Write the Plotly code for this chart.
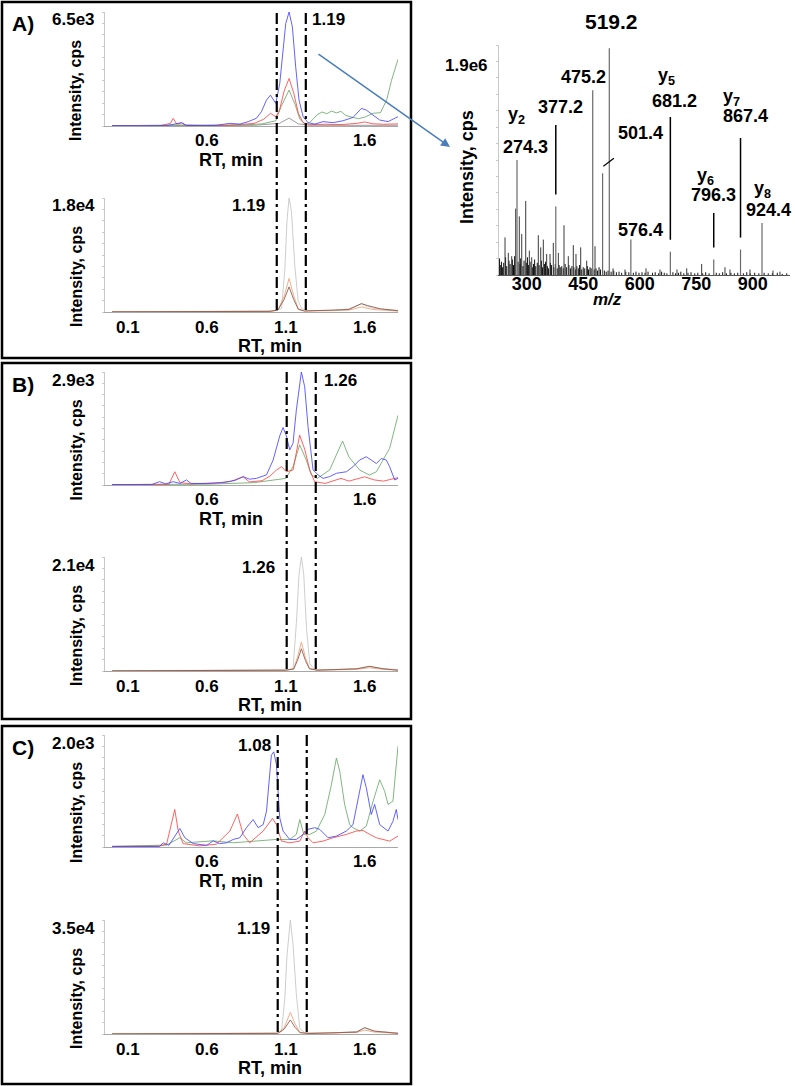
import plotly.graph_objects as go

# ---------------- chromatograms: (RT min, intensity cps) vertices ----------------
# panel A
a_top_blue = [(0.0, 20), (0.134, 20), (0.28, 40), (0.345, 20), (0.44, 190), (0.47, 40), (0.556, 20),
              (0.66, 40), (0.745, 150), (0.81, 110), (0.862, 250), (0.914, 440), (0.946, 815),
              (0.978, 1480), (1.003, 1760), (1.037, 1290), (1.062, 2430), (1.083, 4320), (1.1, 5840),
              (1.121, 6500), (1.142, 5650), (1.163, 3370), (1.184, 1480), (1.21, 530), (1.241, 190),
              (1.284, 110), (1.336, 250), (1.4, 190), (1.463, 300), (1.526, 490), (1.579, 1000),
              (1.61, 910), (1.653, 625), (1.695, 340), (1.748, 250), (1.78, 380), (1.811, 530)]
a_top_red = [(0.0, 10), (0.3, 10), (0.37, 150), (0.387, 435), (0.41, 100), (0.44, 180), (0.47, 30),
             (0.7, 30), (0.8, 80), (0.9, 150), (0.96, 380), (1.003, 720), (1.037, 530), (1.06, 900),
             (1.09, 2000), (1.121, 2710), (1.15, 1900), (1.18, 720), (1.21, 190), (1.25, 80), (1.35, 100),
             (1.45, 80), (1.55, 150), (1.6, 230), (1.65, 130), (1.72, 100), (1.811, 120)]
a_top_green = [(0.0, 10), (0.44, 60), (0.8, 40), (0.95, 120), (1.037, 300), (1.07, 1100), (1.121, 2050),
               (1.16, 1200), (1.19, 380), (1.22, 120), (1.25, 180), (1.3, 650), (1.33, 800), (1.36, 700),
               (1.39, 850), (1.42, 750), (1.45, 830), (1.48, 600), (1.52, 500), (1.56, 420), (1.6, 500),
               (1.65, 720), (1.7, 760), (1.74, 1500), (1.77, 2600), (1.811, 3800)]
a_top_black = [(0.0, 15), (0.9, 40), (1.06, 150), (1.121, 450), (1.18, 120), (1.25, 40), (1.811, 40)]

a_bot_gray = [(0.0, 50), (0.8, 80), (1.0, 150), (1.04, 300), (1.073, 530), (1.094, 6600), (1.108, 14500),
              (1.121, 18000), (1.136, 15900), (1.157, 7400), (1.178, 1850), (1.2, 530), (1.24, 250),
              (1.4, 200), (1.5, 500), (1.579, 1300), (1.65, 600), (1.811, 250)]
a_bot_orange = [(0.0, 30), (1.0, 100), (1.05, 300), (1.09, 2500), (1.121, 5300), (1.15, 2600), (1.18, 500),
                (1.22, 150), (1.5, 300), (1.58, 800), (1.65, 400), (1.811, 150)]
a_bot_brown = [(0.0, 30), (1.0, 100), (1.05, 300), (1.09, 2000), (1.121, 3970), (1.15, 2000), (1.18, 400),
               (1.22, 150), (1.5, 400), (1.579, 1320), (1.62, 1000), (1.7, 500), (1.811, 200)]

# panel B
b_top_blue = [(0.0, 10), (0.25, 10), (0.30, 85), (0.34, 30), (0.387, 85), (0.43, 40), (0.471, 130),
              (0.5, 40), (0.6, 40), (0.7, 60), (0.78, 120), (0.83, 215), (0.87, 150), (0.914, 170),
              (0.978, 260), (1.02, 640), (1.062, 1260), (1.083, 1475), (1.104, 1260), (1.125, 900),
              (1.146, 1070), (1.167, 1920), (1.199, 2900), (1.22, 2520), (1.241, 1500), (1.273, 385),
              (1.305, 260), (1.336, 170), (1.378, 215), (1.421, 300), (1.484, 340), (1.526, 470),
              (1.568, 640), (1.61, 725), (1.642, 640), (1.674, 550), (1.705, 680), (1.737, 640),
              (1.758, 470), (1.79, 130), (1.811, 170)]
b_top_red = [(0.0, 10), (0.36, 20), (0.397, 340), (0.43, 60), (0.5, 30), (0.65, 50), (0.75, 90),
             (0.83, 210), (0.87, 80), (0.95, 110), (1.0, 230), (1.041, 385), (1.073, 470), (1.104, 340),
             (1.146, 385), (1.188, 1280), (1.22, 920), (1.252, 385), (1.283, 85), (1.35, 40), (1.45, 170),
             (1.5, 100), (1.6, 210), (1.66, 130), (1.72, 100), (1.79, 170), (1.811, 190)]
b_top_green = [(0.0, 10), (0.6, 20), (0.9, 60), (1.1, 170), (1.146, 470), (1.188, 1030), (1.23, 640),
               (1.262, 260), (1.3, 170), (1.378, 385), (1.46, 1130), (1.5, 720), (1.568, 385),
               (1.63, 255), (1.674, 340), (1.716, 640), (1.758, 940), (1.811, 1790)]

b_bot_gray = [(0.0, 50), (0.9, 100), (1.1, 200), (1.146, 430), (1.167, 8700), (1.184, 17800), (1.199, 21000),
              (1.214, 17800), (1.231, 8000), (1.252, 1350), (1.283, 250), (1.4, 250), (1.55, 450),
              (1.63, 860), (1.7, 500), (1.811, 200)]
b_bot_orange = [(0.0, 30), (1.1, 150), (1.15, 400), (1.175, 2600), (1.199, 5340), (1.225, 2500), (1.25, 500),
                (1.3, 150), (1.55, 300), (1.63, 600), (1.7, 350), (1.811, 150)]
b_bot_brown = [(0.0, 30), (1.1, 150), (1.15, 350), (1.175, 2000), (1.199, 4100), (1.225, 1900), (1.25, 400),
               (1.3, 150), (1.55, 400), (1.63, 860), (1.72, 400), (1.811, 150)]

# panel C
c_top_blue = [(0.0, 10), (0.3, 10), (0.324, 75), (0.36, 30), (0.429, 330), (0.461, 165), (0.514, 60),
              (0.6, 30), (0.64, 110), (0.68, 60), (0.724, 75), (0.767, 135), (0.809, 165), (0.851, 345),
              (0.893, 490), (0.925, 345), (0.957, 400), (0.978, 640), (1.009, 1640), (1.024, 1700),
              (1.041, 1470), (1.062, 520), (1.083, 285), (1.125, 135), (1.167, 135), (1.21, 225),
              (1.241, 315), (1.284, 345), (1.315, 315), (1.368, 165), (1.421, 195), (1.484, 285),
              (1.526, 400), (1.558, 880), (1.589, 1290), (1.61, 1060), (1.642, 580), (1.663, 760),
              (1.695, 400), (1.748, 285), (1.779, 460), (1.8, 670), (1.811, 490)]
c_top_red = [(0.0, 10), (0.3, 15), (0.345, 50), (0.397, 670), (0.419, 285), (0.45, 60), (0.556, 20),
             (0.661, 50), (0.746, 285), (0.794, 590), (0.83, 225), (0.872, 75), (0.957, 285), (1.016, 510),
             (1.041, 400), (1.073, 105), (1.125, 75), (1.189, 105), (1.22, 285), (1.241, 165), (1.273, 75),
             (1.336, 105), (1.4, 165), (1.484, 225), (1.547, 285), (1.589, 295), (1.632, 225), (1.674, 165),
             (1.716, 135), (1.758, 105), (1.811, 195)]
c_top_green = [(0.0, 10), (0.345, 35), (0.429, 165), (0.47, 75), (0.64, 110), (0.767, 75), (1.041, 135),
               (1.125, 135), (1.167, 225), (1.189, 490), (1.214, 225), (1.252, 225), (1.294, 285),
               (1.347, 580), (1.389, 1110), (1.421, 1590), (1.442, 1350), (1.473, 760), (1.505, 400),
               (1.526, 345), (1.568, 285), (1.61, 370), (1.653, 815), (1.695, 1200), (1.727, 990),
               (1.748, 760), (1.779, 820), (1.8, 1400), (1.811, 1800)]

c_bot_gray = [(0.0, 100), (0.9, 150), (1.04, 300), (1.073, 700), (1.094, 10900), (1.108, 24200),
              (1.129, 35000), (1.146, 27500), (1.167, 12200), (1.189, 1700), (1.22, 400), (1.4, 300),
              (1.55, 800), (1.6, 1900), (1.66, 900), (1.811, 300)]
c_bot_orange = [(0.0, 50), (1.05, 200), (1.09, 2000), (1.129, 6650), (1.16, 3000), (1.19, 500), (1.25, 150),
                (1.55, 500), (1.6, 1200), (1.66, 600), (1.811, 200)]
c_bot_brown = [(0.0, 50), (1.05, 200), (1.09, 1500), (1.129, 4300), (1.16, 2000), (1.19, 400), (1.25, 150),
               (1.55, 600), (1.6, 1950), (1.66, 900), (1.811, 200)]

full_scale = [6500, 18000, 2900, 21000, 2000, 35000]
apex_labels = ["1.19", "1.19", "1.26", "1.26", "1.08", "1.19"]
windows = [[1.043, 1.227], [1.106, 1.29], [1.049, 1.233]]
panel_letters = ["A)", "B)", "C)"]
top_ticks = [0.6, 1.6]
bottom_ticks = [0.1, 0.6, 1.1, 1.6]

# ---------------- MS/MS spectrum of 519.2 ----------------
precursor = "519.2"
labelled_mz = [274.3, 377.2, 475.2, 501.4, 519.2, 576.4, 681.2, 796.3, 867.4, 924.4]
labelled_int = [1.04e6, 0.62e6, 1.67e6, 0.92e6, 2.05e6, 0.32e6, 0.21e6, 0.14e6, 0.23e6, 0.47e6]
ion_names = {274.3: "y<sub>2</sub>", 681.2: "y<sub>5</sub>", 796.3: "y<sub>6</sub>",
             867.4: "y<sub>7</sub>", 924.4: "y<sub>8</sub>"}
minor_mz = [242.5, 251.2, 260.2, 270.8, 280.4, 286.8, 297.4, 307.0, 313.3, 330.8, 337.2, 344.1, 353.0,
            361.9, 370.6, 384.0, 399.0, 410.4, 423.7, 430.8, 443.3, 459.2, 481.3, 529.0, 560.8, 616.6,
            653.7, 698.8, 724.6, 764.3, 826.2, 839.4, 892.5, 953.5, 972.0]
minor_int = [340000, 200000, 170000, 600000, 530000, 370000, 670000, 220000, 160000, 360000, 250000,
             320000, 190000, 190000, 290000, 200000, 450000, 170000, 270000, 190000, 250000, 130000,
             260000, 60000, 50000, 60000, 50000, 50000, 60000, 100000, 70000, 50000, 50000, 40000, 30000]
noise_mz = [228, 231, 233, 236, 239, 244, 247, 253, 256, 262,
            265, 268, 277, 282, 284, 290, 293, 299, 302, 305,
            309, 315, 318, 321, 324, 328, 333, 339, 342, 347,
            350, 355, 358, 363, 366, 372, 376, 381, 386, 389,
            393, 397, 402, 406, 412, 416, 420, 425, 429, 433,
            437, 440, 446, 450, 454, 461, 464, 468, 471, 479,
            484, 488, 492, 496, 506, 511, 516, 524, 531, 538,
            545, 552, 563, 571, 583, 590, 598, 606, 614, 622,
            634, 641, 650, 658, 665, 672, 688, 695, 703, 709,
            717, 728, 736, 746, 754, 767, 775, 784, 803, 811,
            820, 830, 842, 851, 860, 875, 884, 893, 905, 916,
            930, 941, 952, 965, 978, 990]
noise_int = [150000, 90000, 120000, 70000, 110000, 160000, 80000, 130000, 100000, 140000,
             90000, 170000, 120000, 100000, 150000, 80000, 130000, 110000, 160000, 90000,
             120000, 70000, 100000, 140000, 80000, 110000, 90000, 130000, 70000, 100000,
             120000, 80000, 60000, 110000, 90000, 70000, 100000, 60000, 90000, 70000,
             80000, 60000, 100000, 70000, 90000, 60000, 80000, 70000, 50000, 80000,
             60000, 90000, 50000, 70000, 60000, 80000, 50000, 70000, 60000, 50000,
             60000, 40000, 70000, 50000, 40000, 30000, 40000, 30000, 40000, 25000,
             30000, 20000, 30000, 25000, 20000, 30000, 20000, 25000, 20000, 30000,
             20000, 25000, 15000, 30000, 20000, 15000, 25000, 15000, 20000, 30000,
             15000, 20000, 25000, 15000, 20000, 15000, 25000, 15000, 20000, 15000,
             25000, 15000, 20000, 15000, 20000, 15000, 25000, 15000, 20000, 15000,
             20000, 15000, 15000, 20000, 10000, 15000]
spec_ymax = 2.08e6
spec_xrange = [226.5, 998.7]
spec_ticks = [300, 450, 600, 750, 900]

# ---------------- layout helpers ----------------
W, H = 795, 1086
FONT = "Liberation Sans, Arial, sans-serif"
BLUE, RED, GREEN, DARK = "#4646ff", "#ff4646", "#6aa96a", "#8a8a8a"
LGRAY, ORANGE, BROWN = "#c4c4c4", "#eba27a", "#8a5444"


def fx(p):
    return p / W


def fy(p):
    return 1 - p / H


def fmt_sci(v):
    e = len(str(int(v))) - 1
    return f"{v / 10 ** e:.1f}e{e}"


fig = go.Figure()
annotations = []
shapes = []


def note(text, x, y, size=16, xanchor="center", angle=0):
    annotations.append(dict(text=text, x=fx(x), y=fy(y), xref="paper", yref="paper", showarrow=False,
                            xanchor=xanchor, yanchor="middle", textangle=angle,
                            font=dict(family=FONT, size=size, color="black", weight="bold")))


chrom_series = [
    [(a_top_black, DARK), (a_top_green, GREEN), (a_top_red, RED), (a_top_blue, BLUE)],
    [(a_bot_gray, LGRAY), (a_bot_orange, ORANGE), (a_bot_brown, BROWN)],
    [(b_top_green, GREEN), (b_top_red, RED), (b_top_blue, BLUE)],
    [(b_bot_gray, LGRAY), (b_bot_orange, ORANGE), (b_bot_brown, BROWN)],
    [(c_top_green, GREEN), (c_top_red, RED), (c_top_blue, BLUE)],
    [(c_bot_gray, LGRAY), (c_bot_orange, ORANGE), (c_bot_brown, BROWN)],
]
# pixel geometry of each chromatogram (plot top, baseline)
geom = [(12, 126), (198, 312), (372, 485), (557, 671), (735, 847), (920, 1034)]
CX0, CX1 = 105, 398
box_off = [0, 361, 724]

for i, series in enumerate(chrom_series):
    top, base = geom[i]
    ax = "" if i == 0 else str(i + 1)
    for pts, col in series:
        fig.add_trace(go.Scatter(x=[p[0] for p in pts], y=[p[1] for p in pts], mode="lines",
                                 line=dict(color=col, width=0.85), xaxis="x" + ax, yaxis="y" + ax,
                                 hoverinfo="skip"))
    lower = i % 2 == 1
    ticks = bottom_ticks if lower else top_ticks
    fig.layout["xaxis" + ax] = dict(domain=[fx(CX0), fx(CX1)], anchor="y" + ax, range=[-0.045, 1.811],
                                    showgrid=False, zeroline=False, showline=True, linecolor="#a8a8a8",
                                    linewidth=1, ticks="", tickvals=ticks,
                                    ticktext=[f"{t:.1f}" for t in ticks],
                                    ticklabelstandoff=0 if lower else -1,
                                    tickfont=dict(family=FONT, size=17, color="black", weight="bold"))
    fig.layout["yaxis" + ax] = dict(domain=[fy(base), fy(top)], anchor="x" + ax, range=[0, full_scale[i]],
                                    showgrid=False, zeroline=False, showline=True, linecolor="#c8c8c8",
                                    linewidth=1, ticks="outside", ticklen=2, tickcolor="#c8c8c8",
                                    dtick=full_scale[i] / 10, showticklabels=False)
    note(fmt_sci(full_scale[i]), 97, top + 8, size=17, xanchor="right")
    note("Intensity, cps", 76, (top + base) / 2 + 22, size=16, angle=-90)
    note("RT, min", 270 if lower else 231, base + 34, size=18)

# apex retention-time labels
note(apex_labels[0], 310, 20, size=17, xanchor="left")
note(apex_labels[1], 267, 205, size=17, xanchor="right")
note(apex_labels[2], 322, 380, size=17, xanchor="left")
note(apex_labels[3], 277, 567, size=17, xanchor="right")
note(apex_labels[4], 273, 745, size=17, xanchor="right")
note(apex_labels[5], 272, 928, size=17, xanchor="right")

# integration windows (dash-dot) spanning both chromatograms of a panel
for k, (lo, hi) in enumerate(windows):
    top = geom[2 * k][0]
    base = geom[2 * k + 1][1]
    for rt in (lo, hi):
        shapes.append(dict(type="line", xref="x", yref="paper", x0=rt, x1=rt, y0=fy(base - 2), y1=fy(top),
                           line=dict(color="black", width=2.2, dash="11px,4px,3px,4px")))
    # panel frame
    shapes.append(dict(type="rect", xref="paper", yref="paper", x0=fx(2), x1=fx(411),
                       y0=fy(box_off[k] + (358 if k < 2 else 360)), y1=fy(box_off[k] + 2),
                       line=dict(color="black", width=2.5)))
    note(panel_letters[k], 23, box_off[k] + 23, size=21)

# ---------------- spectrum ----------------
SX0, SX1, STOP, SBASE = 499, 790, 45, 275


def sticks(mz, inten):
    xs, ys = [], []
    for m, v in zip(mz, inten):
        xs += [m, m, None]
        ys += [0, v, None]
    return xs, ys


for mz, inten, col, w in [(noise_mz, noise_int, "#111111", 1), (minor_mz, minor_int, "#3a3a3a", 1),
                          (labelled_mz, labelled_int, "#6a6a6a", 1.2)]:
    xs, ys = sticks(mz, inten)
    fig.add_trace(go.Scatter(x=xs, y=ys, mode="lines", line=dict(color=col, width=w),
                             xaxis="x7", yaxis="y7", hoverinfo="skip"))

fig.layout["xaxis7"] = dict(domain=[fx(SX0), fx(SX1)], anchor="y7", range=spec_xrange, showgrid=False,
                            zeroline=False, showline=True, linecolor="#555555", ticks="", tickvals=spec_ticks,
                            ticklabelstandoff=-8,
                            tickfont=dict(family=FONT, size=18, color="black", weight="bold"))
fig.layout["yaxis7"] = dict(domain=[fy(SBASE), fy(STOP)], anchor="x7", range=[0, spec_ymax], showgrid=False,
                            zeroline=False, showline=True, linecolor="#c8c8c8", ticks="outside", ticklen=2,
                            tickcolor="#c8c8c8", dtick=spec_ymax / 14, showticklabels=False)

note(precursor, 611, 22, size=21)
note("1.9e6", 490, 66, size=17, xanchor="right")
note("Intensity, cps", 467, 167, size=18, angle=-90)
note("<i>m/z</i>", 607, 299, size=17)

# fragment labels (pixel positions of number / ion name)
num_pos = {274.3: (525, 147), 377.2: (560, 107), 475.2: (583, 77), 501.4: (640, 133), 576.4: (640, 230),
           681.2: (674, 101), 796.3: (713, 195), 867.4: (745, 116), 924.4: (768, 210)}
ion_pos = {274.3: (516, 115), 681.2: (666, 77), 796.3: (705, 177), 867.4: (731, 98), 924.4: (762, 189)}
for mz, (x, y) in num_pos.items():
    note(f"{mz:.1f}", x, y, size=18)
for mz, (x, y) in ion_pos.items():
    note(ion_names[mz], x, y, size=18)

px_per_int = (SBASE - STOP) / spec_ymax


def to_int(py):
    return (SBASE - py) / px_per_int


leader_top = {377.2: 125, 681.2: 117, 796.3: 213, 867.4: 138}
for mz, ptop in leader_top.items():
    v = labelled_int[labelled_mz.index(mz)]
    shapes.append(dict(type="line", xref="x7", yref="y7", x0=mz, x1=mz, y0=v + 12 / px_per_int,
                       y1=to_int(ptop), line=dict(color="black", width=1.5)))
v501 = labelled_int[labelled_mz.index(501.4)]
shapes.append(dict(type="line", xref="x7", yref="y7", x0=501.4 + 2, x1=501.4 + 30,
                   y0=v501 + 7 / px_per_int, y1=v501 + 15 / px_per_int, line=dict(color="black", width=1.2)))

# arrow from panel A peak to the spectrum
annotations.append(dict(text="", x=fx(450), y=fy(147), xref="paper", yref="paper", showarrow=True,
                        ax=-133, ay=-94, arrowhead=2, arrowsize=1.2, arrowwidth=1.5, arrowcolor="#4a7ebb"))

fig.update_layout(width=W, height=H, margin=dict(l=0, r=0, t=0, b=0), paper_bgcolor="white",
                  plot_bgcolor="white", showlegend=False, annotations=annotations, shapes=shapes,
                  hovermode=False)
fig.write_html("out.html", config={"displayModeBar": False},
               post_script="document.body.style.margin='0';")
